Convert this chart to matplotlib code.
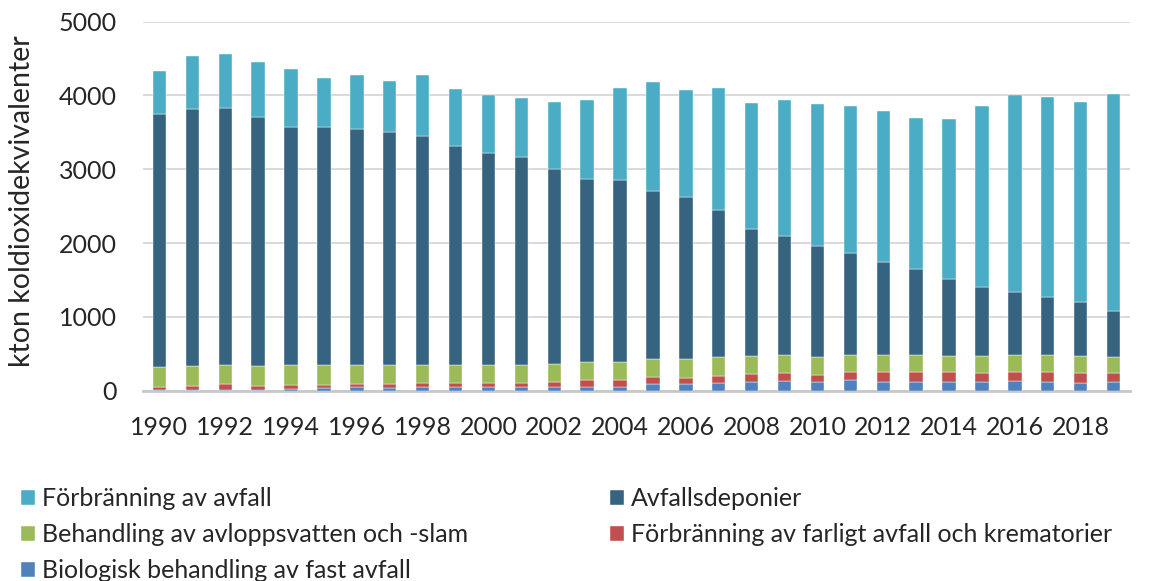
import matplotlib

matplotlib.use("Agg")
import matplotlib.pyplot as plt
import numpy as np

plt.rcParams["font.family"] = ["Lato", "DejaVu Sans"]

years = list(range(1990, 2020))

# kton CO2-ekvivalenter per delsektor
biologisk = [3, 3, 3, 15, 20, 40, 45, 41, 50, 50, 50, 55, 55, 55, 55,
             86, 91, 104, 118, 136, 113, 145, 113, 113, 113, 113, 136, 122, 104, 113]
farligt = [47, 65, 83, 53, 61, 41, 50, 54, 50, 50, 50, 45, 63, 86, 92,
           99, 85, 99, 104, 99, 104, 104, 136, 136, 136, 122, 122, 131, 131, 122]
avlopp = [271, 267, 262, 271, 267, 267, 253, 253, 248, 248, 248, 248, 244, 244, 248,
          244, 253, 249, 248, 244, 239, 234, 234, 234, 225, 239, 225, 230, 230, 221]
deponier = [3428, 3482, 3477, 3369, 3220, 3220, 3193, 3161, 3098, 2972, 2877, 2823, 2638, 2488, 2460,
            2281, 2191, 1996, 1721, 1621, 1509, 1387, 1257, 1162, 1044, 935, 850, 791, 741, 628]
forbranning = [578, 722, 741, 750, 786, 664, 741, 691, 836, 768, 776, 795, 912, 1070, 1247,
               1477, 1459, 1654, 1707, 1834, 1920, 1982, 2049, 2045, 2158, 2447, 2668, 2710, 2706, 2931]

series = [
    ("Biologisk behandling av fast avfall", biologisk, "#4F81BD"),
    ("Förbränning av farligt avfall och krematorier", farligt, "#C0504D"),
    ("Behandling av avloppsvatten och -slam", avlopp, "#9BBB59"),
    ("Avfallsdeponier", deponier, "#366480"),
    ("Förbränning av avfall", forbranning, "#4BACC6"),
]

W, H = 1149, 581
fig = plt.figure(figsize=(W / 100, H / 100), dpi=100)
ax = fig.add_axes([143 / W, 1 - 390.7 / H, (1130 - 143) / W, (390.7 - 21.5) / H])

x = np.arange(len(years))
bottom = np.zeros(len(years))
handles = {}
for label, values, color in series:
    bars = ax.bar(x, values, width=0.405, bottom=bottom, color=color,
                  edgecolor="white", linewidth=0.3, label=label, zorder=3)
    handles[label] = bars
    bottom += np.array(values)

ax.set_xlim(-0.5, len(years) - 0.5)
ax.set_ylim(0, 5000)
ax.set_yticks(range(0, 5001, 1000))
ax.set_xticks(x[::2])
ax.set_xticklabels([str(y) for y in years[::2]])
ax.grid(axis="y", color="#D9D9D9", linewidth=1.4, zorder=0)
ax.set_axisbelow(True)
for side in ["top", "right", "left"]:
    ax.spines[side].set_visible(False)
ax.spines["bottom"].set_color("#C8C8C8")
ax.spines["bottom"].set_linewidth(2)
ax.tick_params(axis="both", length=0, labelsize=18, colors="#262626")
ax.tick_params(axis="x", pad=18)
ax.tick_params(axis="y", pad=19)

fig.text(22 / W, 1 - 201.5 / H, "kton koldioxidekvivalenter", rotation=90,
         ha="center", va="center", fontsize=20.5, color="#262626")

legend_kw = dict(frameon=False, fontsize=18, handlelength=0.55, handleheight=0.55,
                 handletextpad=0.3, labelspacing=0.52, borderpad=0, borderaxespad=0,
                 loc="upper left")
left_labels = ["Förbränning av avfall", "Behandling av avloppsvatten och -slam",
               "Biologisk behandling av fast avfall"]
right_labels = ["Avfallsdeponier", "Förbränning av farligt avfall och krematorier"]
leg1 = fig.legend([handles[l] for l in left_labels], left_labels,
                  bbox_to_anchor=(21 / W, 1 - 487 / H), **legend_kw)
leg2 = fig.legend([handles[l] for l in right_labels], right_labels,
                  bbox_to_anchor=(610 / W, 1 - 487 / H), **legend_kw)
for leg in (leg1, leg2):
    for t in leg.get_texts():
        t.set_color("#262626")

fig.savefig("out.png", dpi=100)
